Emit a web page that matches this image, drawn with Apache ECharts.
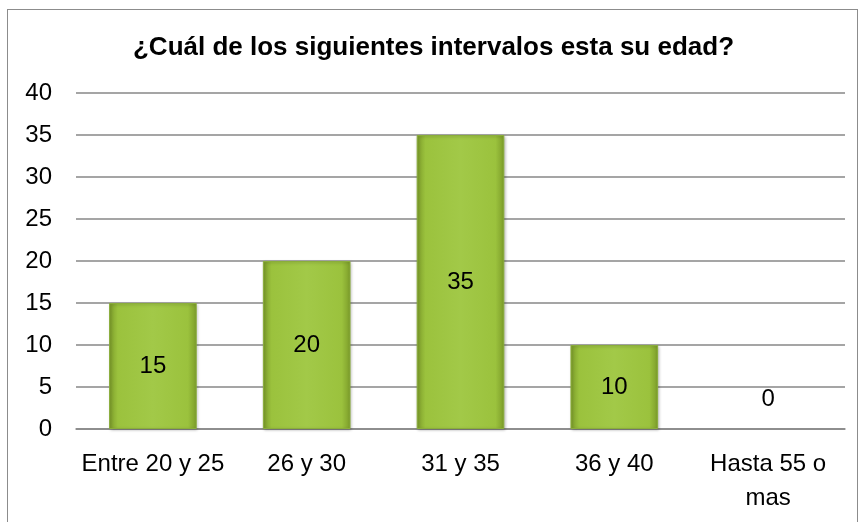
<!DOCTYPE html>
<html>
<head>
<meta charset="utf-8">
<script src="https://cdn.jsdelivr.net/npm/echarts@6/dist/echarts.min.js"></script>
<style>
  html, body { margin: 0; padding: 0; background: #fff; }
  #frame { position: absolute; left: 7px; top: 9px; width: 851px; height: 530px; border: 1.5px solid #8c8c8c; box-sizing: border-box; }
  #main { width: 867px; height: 522px; position: absolute; left: 0; top: 0; }
</style>
</head>
<body>
<div id="frame"></div>
<div id="main"></div>
<script>
// datos del grafico
var categorias = ['Entre 20 y 25', '26 y 30', '31 y 35', '36 y 40', 'Hasta 55 o\nmas'];
var valores = [15, 20, 35, 10, 0];
var ticksY = [0, 5, 10, 15, 20, 25, 30, 35, 40];

var myChart = echarts.init(document.getElementById('main'));

// relleno verde con bordes mas oscuros
var verde = new echarts.graphic.LinearGradient(0, 0, 1, 0, [
  { offset: 0, color: '#7c9c2a' },
  { offset: 0.1, color: '#9bc23d' },
  { offset: 0.5, color: '#a2c948' },
  { offset: 0.9, color: '#9bc23d' },
  { offset: 1, color: '#7c9c2a' }
]);

var fuente = 'Liberation Sans, Arial';

var option = {
  animation: false,
  title: {
    text: '¿Cuál de los siguientes intervalos esta su edad?',
    left: 'center',
    top: 30,
    textStyle: {
      fontFamily: fuente,
      fontWeight: 'bold',
      fontSize: 26,
      color: '#000'
    }
  },
  grid: { left: 76, right: 22, top: 93, bottom: 93 },
  xAxis: {
    type: 'category',
    data: categorias,
    axisLine: { show: true, lineStyle: { color: '#878787', width: 1.5 } },
    axisTick: { show: false },
    axisLabel: {
      color: '#000',
      fontSize: 24,
      fontFamily: fuente,
      margin: 18,
      lineHeight: 34,
      interval: 0
    }
  },
  yAxis: {
    type: 'value',
    min: ticksY[0],
    max: ticksY[ticksY.length - 1],
    interval: 5,
    axisLine: { show: false },
    axisTick: { show: false },
    splitLine: { lineStyle: { color: '#878787', width: 1.5 } },
    axisLabel: {
      color: '#000',
      fontSize: 24,
      fontFamily: fuente,
      margin: 24
    }
  },
  series: [{
    type: 'bar',
    barWidth: '57%',
    itemStyle: {
      color: verde,
      borderColor: '#8aad3b',
      borderWidth: 1,
      shadowColor: 'rgba(0,0,0,0.25)',
      shadowBlur: 3,
      shadowOffsetX: 1,
      shadowOffsetY: 1
    },
    label: {
      show: true,
      position: 'inside',
      color: '#000',
      fontSize: 24,
      fontFamily: fuente
    }
  }]
};

// el cero va arriba de la base, sin barra visible
option.series[0].data = valores.map(function (v) {
  if (v === 0) {
    return {
      value: v,
      itemStyle: { color: 'transparent', borderWidth: 0, shadowBlur: 0, shadowOffsetX: 0, shadowOffsetY: 0 },
      label: { position: 'top', distance: 18 }
    };
  }
  return v;
});

myChart.setOption(option);
</script>
</body>
</html>
